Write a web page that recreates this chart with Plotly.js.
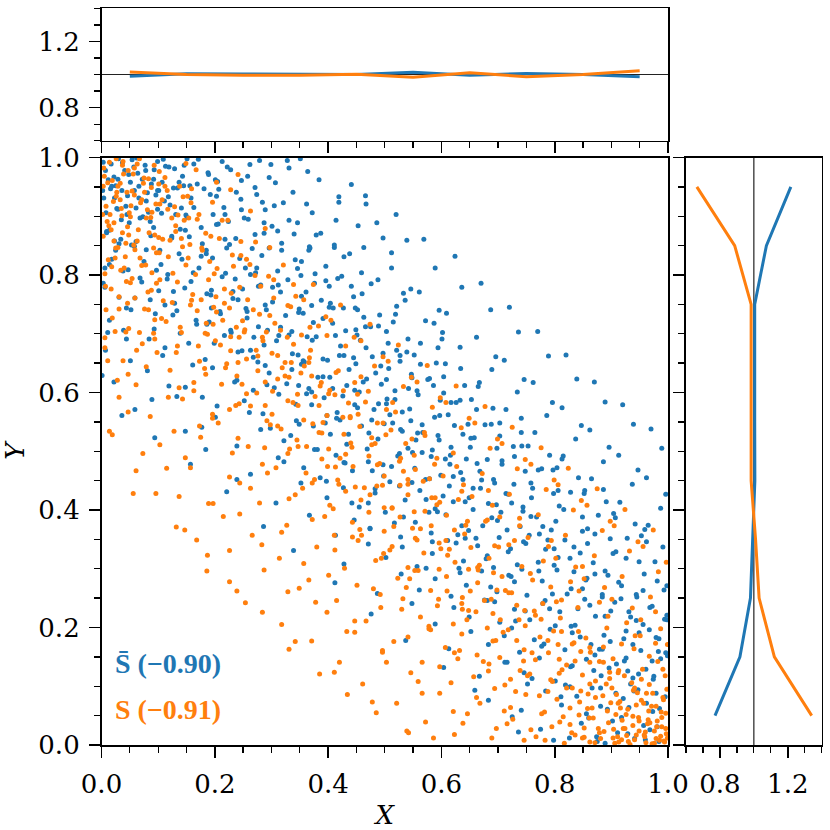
<!DOCTYPE html>
<html>
<head>
<meta charset="utf-8">
<script src="https://cdn.plot.ly/plotly-3.0.1.min.js"></script>
<style>
  html, body { margin: 0; padding: 0; background: #fff; }
  #myDiv { width: 830px; height: 830px; }
</style>
</head>
<body>
<div id="myDiv"></div>
<script>
/* jshint esversion: 6 */
/* global Plotly */

// Scatter samples, as [x, y] in thousandths
const blueDots = [
    [3,992],[18,951],[41,978],[27,913],[9,874],[46,935],[34,861],[14,818],[22,967],[49,889],[6,779],[38,807],[30,998],[11,702],[44,744],[25,842],[1,629],[36,561],
    [57,984],[92,963],[68,897],[81,940],[53,851],[99,912],[75,823],[62,999],[87,867],[71,788],[95,734],[59,761],[84,691],[66,931],[78,978],[51,654],[97,808],[89,588],
    [109,997],[137,958],[121,919],[148,876],[103,842],[129,981],[116,793],[142,827],[133,739],[106,905],[124,863],[145,952],[112,676],[139,701],[119,611],[127,772],[101,944],[148,534],
    [163,989],[181,947],[197,903],[155,865],[172,812],[188,974],[158,931],[193,766],[167,723],[176,881],[185,836],[151,998],[199,684],[161,647],[178,592],[190,720],[169,955],[184,503],
    [213,993],[238,941],[206,887],[226,852],[247,911],[219,803],[232,760],[201,962],[244,828],[228,706],[210,734],[241,669],[216,915],[235,618],[249,776],[204,577],[222,984],[239,452],
    [258,968],[284,924],[271,869],[296,846],[263,801],[289,749],[252,897],[277,712],[299,988],[268,660],[281,783],[255,743],[292,613],[274,937],[261,566],[287,681],[298,539],[266,845],
    [307,957],[331,893],[318,842],[346,811],[302,779],[325,731],[340,870],[313,697],[349,742],[336,639],[321,923],[305,608],[343,580],[328,995],[316,771],[334,527],[311,875],[347,664],[322,482],
    [362,921],[387,871],[353,823],[396,790],[371,748],[379,695],[358,652],[391,726],[366,607],[384,962],[399,655],[374,543],[356,735],[393,591],[368,846],[381,503],[351,998],[376,786],[397,449],
    [414,893],[438,836],[402,781],[427,744],[449,707],[420,663],[433,612],[408,718],[445,659],[416,566],[441,954],[424,798],[403,626],[436,529],[411,847],[447,579],[430,480],[419,924],[442,412],
    [463,847],[488,792],[452,741],[475,712],[497,667],[468,623],[481,571],[457,689],[494,614],[472,531],[486,889],[460,768],[499,547],[478,467],[455,601],[491,732],[466,935],[483,436],[474,369],
    [512,812],[536,757],[503,704],[527,663],[548,625],[518,588],[531,534],[507,641],[544,572],[523,492],[539,859],[515,720],[549,498],[526,441],[509,562],[541,691],[520,903],[533,388],[546,776],
    [561,771],[587,718],[552,664],[576,622],[598,587],[566,545],[582,491],[557,603],[594,527],[572,452],[589,812],[563,684],[599,459],[578,396],[555,519],[591,650],[569,861],[584,346],[596,740],
    [609,735],[633,677],[604,627],[626,583],[647,546],[617,507],[638,452],[612,562],[644,487],[621,414],[636,779],[607,649],[649,421],[629,358],[615,478],[641,612],[624,832],[631,301],[602,702],
    [662,694],[689,639],[653,588],[677,545],[698,505],[668,466],[683,411],[658,523],[694,446],[673,373],[687,741],[665,610],[699,382],[679,317],[656,437],[691,573],[670,786],[681,246],[696,661],[659,93],
    [711,655],[734,601],[703,548],[727,508],[748,466],[718,427],[739,372],[707,484],[744,405],[722,334],[736,703],[714,571],[749,343],[729,278],[705,396],[741,532],[720,745],[731,211],[746,622],[716,141],[725,48],
    [762,617],[786,561],[753,509],[777,470],[798,428],[768,388],[784,333],[758,446],[794,366],[772,296],[789,662],[765,532],[799,306],[779,241],[755,357],[791,493],[770,704],[781,172],[796,583],[760,113],[775,27],
    [813,574],[837,521],[804,472],[828,430],[849,388],[818,349],[834,295],[808,407],[845,327],[822,257],[839,623],[815,492],[849,266],[829,202],[806,319],[842,455],[820,664],[831,135],[847,544],[811,82],[826,12],[841,232],
    [862,536],[886,482],[853,433],[877,391],[898,351],[868,310],[884,256],[858,368],[894,289],[872,219],[889,584],[865,453],[899,228],[879,163],[855,281],[891,414],[870,618],[881,97],[896,507],[860,46],[875,6],[887,187],
    [913,493],[937,444],[904,394],[928,352],[949,312],[918,271],[934,218],[908,329],[945,252],[922,181],[939,546],[915,413],[949,191],[929,126],[906,243],[942,376],[920,579],[931,64],[947,468],[911,21],[926,148],[940,92],
    [962,455],[987,403],[953,356],[977,312],[998,271],[968,234],[984,181],[958,291],[994,214],[972,143],[989,505],[965,374],[999,152],[979,88],[956,205],[991,337],[970,538],[981,31],[996,427],[960,9],[975,117],[985,62],[993,264],
    // second pass, read row by row from the top
    [12,962],[37,991],[64,973],[88,955],[119,984],[143,968],[171,997],[205,959],[228,979],[262,988],[296,966],[331,982],[7,978],[51,958],[99,993],[156,952],[189,971],[247,961],[279,995],[364,976],[25,952],[77,987],
    [4,931],[29,912],[58,944],[83,907],[111,926],[134,948],[163,915],[192,937],[218,903],[246,929],[271,949],[305,918],[338,941],[372,906],[419,933],[467,921],[16,947],[45,903],[96,936],[149,902],[207,946],[289,911],
    [9,872],[35,894],[61,857],[92,881],[124,866],[151,898],[178,853],[203,886],[237,862],[259,895],[287,871],[318,854],[346,889],[379,868],[411,851],[453,884],[497,863],[23,858],[73,899],[139,878],[224,891],[301,883],
    [18,827],[47,809],[79,843],[105,818],[137,836],[162,804],[196,829],[221,846],[254,812],[283,833],[311,807],[342,826],[367,848],[396,815],[428,831],[459,804],[512,838],[6,812],[58,849],[117,801],[185,842],[272,804],[377,802],
    [3,786],[31,762],[68,795],[101,773],[129,752],[158,789],[186,768],[213,797],[241,758],[277,781],[302,754],[329,792],[361,771],[388,757],[417,794],[445,763],[476,785],[533,769],[86,758],[147,778],[232,772],[352,799],[404,752],
    [14,723],[52,741],[93,708],[126,732],[168,716],[194,744],[229,702],[257,727],[291,741],[316,711],[348,736],[374,719],[402,745],[431,705],[463,728],[489,713],[521,747],[572,722],[39,706],[112,749],[209,738],[336,704],[448,744],
    [7,672],[44,691],[108,663],[154,684],[183,656],[217,697],[248,671],[276,652],[309,688],[337,666],[363,695],[391,657],[422,679],[451,698],[478,661],[506,684],[539,669],[601,691],[269,694],[356,654],[413,697],[467,676],[527,653],
    [22,618],[81,637],[148,609],[196,642],[239,621],[268,604],[296,633],[327,615],[353,648],[382,626],[408,607],[437,639],[462,618],[493,645],[518,603],[547,631],[586,612],[634,641],[289,646],[371,601],[449,649],[503,622],[563,648],
    [59,571],[133,593],[201,558],[252,586],[285,564],[313,597],[344,552],[371,579],[398,561],[426,594],[452,574],[477,553],[504,589],[531,567],[559,596],[588,558],[617,583],[662,571],[362,598],[415,556],[489,581],[546,552],[604,599],
    [94,523],[177,541],[239,509],[281,537],[322,518],[349,546],[376,503],[404,529],[433,512],[459,543],[488,521],[514,548],[541,505],[567,532],[596,519],[623,544],[651,507],[703,526],[395,548],[469,504],[528,537],[584,502],[638,529],
    [157,478],[263,461],[312,489],[357,472],[386,455],[414,493],[443,467],[471,482],[498,458],[526,496],[553,471],[579,453],[607,487],[634,464],[663,479],[692,452],[729,491],[771,468],[428,481],[512,474],[566,498],[621,457],[681,486],
    [221,431],[308,412],[352,446],[398,421],[427,438],[455,405],[483,429],[509,448],[536,417],[562,433],[589,402],[614,441],[642,414],[669,437],[697,409],[728,444],[759,421],[806,433],[471,412],[548,447],[603,424],[656,401],[714,428],
    [286,372],[367,391],[413,357],[446,383],[474,368],[501,396],[528,354],[554,379],[582,361],[608,392],[636,373],[661,352],[689,387],[716,366],[744,398],[773,359],[802,381],[849,364],[517,378],[593,397],[648,365],[702,353],[758,389],
    [339,331],[428,308],[471,342],[502,319],[531,337],[557,304],[584,326],[611,348],[639,313],[664,339],[692,302],[718,329],[745,346],[771,311],[799,334],[827,318],[858,343],[903,326],[573,301],[626,344],[681,322],[734,307],[788,349],
    [412,276],[487,258],[529,291],[561,264],[589,283],[617,253],[644,272],[671,296],[698,261],[723,287],[751,255],[778,279],[804,298],[829,266],[857,284],[884,252],[913,277],[956,263],[633,293],[687,269],[742,299],[796,257],[871,291],
    [476,223],[548,241],[589,206],[622,234],[649,218],[676,247],[703,209],[729,231],[756,213],[783,246],[809,227],[836,204],[862,238],[889,219],[917,249],[944,212],[972,236],[998,221],[694,244],[748,228],[801,203],[853,248],[931,227],
    [537,178],[613,164],[652,193],[683,171],[711,186],[738,158],[764,179],[792,197],[818,162],[845,184],[871,153],[898,176],[926,194],[952,161],[979,183],[996,157],[724,199],[777,168],[831,191],[884,163],[938,171],[967,196],
    [604,132],[667,117],[712,141],[746,123],[773,148],[801,109],[828,133],[856,146],[882,118],[909,138],[934,104],[961,129],[987,147],[819,102],[869,127],[923,143],[974,112],[752,104],[896,131],[948,121],
    [683,76],[741,59],[784,92],[812,68],[839,83],[866,97],[893,61],[921,79],[947,94],[973,57],[995,82],[856,53],[908,88],[962,71],[827,99],[881,66],
    [736,22],[798,8],[847,37],[874,14],[902,41],[929,19],[957,33],[984,6],[918,47],[968,26],[889,3],[941,11],
    // third pass: top-left corner and band core
    [2,944],[17,989],[29,963],[43,917],[54,996],[66,951],[79,926],[93,979],[107,958],[118,933],[131,903],[146,987],[8,906],[23,931],[36,944],[48,971],[61,914],[72,963],[86,891],[99,944],[113,985],[127,948],[141,914],[14,876],[31,853],
    [176,832],[194,774],[218,861],[236,793],[257,738],[274,812],[293,706],[312,783],[331,698],[353,764],[372,689],[391,627],[409,744],[428,663],[447,604],[466,712],[484,633],[503,581],[521,672],[542,607],[558,531],[579,624],[597,561],[616,493],[633,587],[652,522],[671,451],[688,546],[707,478],[724,412],[742,509],[761,437],[779,372],[797,468],[816,401],[834,337],[852,428],[871,359],[889,296],[907,387],[926,318],[944,256],[962,346],[981,279],[998,213],
    [186,716],[263,672],[348,612],[421,553],[497,477],[573,418],[642,352],[719,289],[791,232],[864,171],[938,114],[983,159],[203,934],[287,889],[366,842],[441,781],[519,733],[594,676],[667,617],[741,556],[813,487],[886,435],[959,367]
];

const orangeDots = [
    [5,968],[21,925],[37,987],[13,884],[45,941],[29,847],[2,903],[40,812],[17,776],[33,956],[48,868],[8,741],[26,998],[43,703],[11,654],[31,592],[19,528],[47,631],[24,829],[36,901],
    [54,943],[79,897],[63,858],[96,921],[71,816],[88,774],[58,982],[83,741],[67,702],[92,846],[75,965],[51,787],[98,668],[61,613],[86,559],[73,496],[94,724],[56,428],
    [107,928],[131,874],[118,831],[146,893],[103,792],[125,753],[139,711],[112,951],[134,679],[149,817],[121,638],[106,726],[143,589],[128,534],[115,471],[137,423],[101,864],[147,366],
    [154,897],[178,842],[166,801],[193,866],[159,757],[185,718],[171,679],[199,802],[152,934],[182,641],[163,603],[196,563],[175,524],[157,472],[189,411],[168,349],[186,296],[198,745],
    [208,862],[233,815],[217,776],[246,833],[203,737],[228,695],[241,651],[212,614],[237,578],[223,893],[249,722],[206,548],[231,497],[244,446],[215,389],[226,331],[239,262],[210,681],
    [256,827],[281,781],[268,741],[295,798],[252,703],[276,662],[289,618],[263,577],[298,545],[272,856],[285,688],[259,508],[293,463],[279,412],[266,357],[287,298],[254,242],[297,731],
    [304,792],[329,748],[316,706],[343,764],[301,667],[324,628],[338,583],[311,543],[347,508],[321,817],[335,651],[308,472],[342,426],[327,374],[314,318],[349,267],[318,205],[331,163],
    [357,758],[383,713],[369,672],[396,729],[352,633],[377,593],[391,549],[362,508],[399,474],[374,784],[388,617],[355,437],[394,389],[380,337],[366,281],[398,226],[371,177],[385,121],
    [405,723],[431,679],[418,637],[446,694],[401,598],[426,558],[440,514],[413,473],[448,439],[422,749],[436,582],[409,402],[443,354],[429,301],[415,246],[447,192],[420,141],[434,86],
    [458,688],[482,645],[471,602],[497,661],[453,563],[477,523],[491,479],[464,438],[499,404],[474,716],[487,548],[456,367],[494,318],[480,266],[467,211],[496,158],[461,104],[485,55],
    [506,653],[533,610],[519,567],[547,626],[502,528],[528,488],[541,444],[513,403],[549,369],[524,681],[537,513],[509,332],[544,283],[530,231],[516,176],[546,123],[521,71],[539,24],
    [557,618],[584,575],[570,532],[598,591],[552,493],[579,453],[592,409],[563,368],[599,334],[575,646],[588,478],[559,297],[595,248],[581,196],[566,141],[597,88],[572,39],[586,12],
    [608,583],[635,540],[621,497],[649,556],[603,458],[630,418],[643,374],[614,333],[648,299],[626,611],[639,443],[610,262],[645,213],[632,161],[617,106],[646,53],[623,18],[637,231],
    [659,548],[686,505],[672,462],[699,521],[654,423],[681,383],[694,339],[665,298],[698,264],[677,576],[690,408],[661,227],[696,178],[683,126],[668,71],[697,28],[674,142],[688,248],
    [707,513],[734,470],[720,427],[748,486],[703,388],[729,348],[742,304],[713,263],[747,229],[725,541],[738,373],[709,192],[745,143],[731,91],[716,36],[746,8],[722,112],[737,213],[711,58],
    [758,478],[785,435],[771,392],[799,451],[753,353],[780,313],[793,269],[764,228],[798,194],[776,506],[789,338],[760,157],[796,108],[782,56],[767,14],[795,31],[773,84],[788,178],[756,121],[779,241],
    [806,443],[833,400],[819,357],[847,416],[802,318],[828,278],[841,234],[812,193],[846,159],[824,471],[837,303],[808,122],[844,73],[830,21],[815,48],[849,12],[821,97],[836,143],[810,216],[843,262],[827,35],
    [857,408],[884,365],[870,322],[898,381],[852,283],[879,243],[892,199],[863,158],[897,124],[875,436],[888,268],[859,87],[895,38],[881,11],[866,63],[899,72],[872,109],[886,141],[855,182],[894,219],[877,28],[862,5],
    [905,373],[932,330],[919,287],[947,346],[901,248],[927,208],[940,164],[912,123],[946,89],[924,401],[937,233],[908,52],[944,17],[930,6],[915,74],[949,41],[921,28],[936,106],[903,147],[942,186],[918,9],[929,61],[911,14],
    [956,338],[983,295],[969,252],[997,311],[952,213],[978,173],[991,129],[962,88],[996,54],[974,366],[987,198],[958,17],[994,5],[980,31],[965,43],[999,12],[971,66],[985,8],[953,112],[992,77],[976,3],[960,22],[989,47],[998,95],[967,151],
    // second pass, read row by row from the top
    [4,982],[19,961],[38,993],[56,972],[74,956],[93,987],[112,966],[138,951],[167,979],[203,958],[241,971],[29,951],[67,998],[101,955],[149,990],[11,957],[47,978],[83,964],
    [8,917],[27,941],[49,906],[71,928],[88,949],[117,912],[144,933],[172,903],[196,924],[228,945],[263,909],[15,903],[58,936],[103,921],[135,902],[33,928],[81,911],[159,947],
    [3,866],[22,889],[43,854],[65,877],[87,898],[108,861],[131,884],[156,852],[184,871],[213,893],[246,857],[289,879],[51,899],[94,868],[17,877],[121,859],[169,895],[37,872],
    [12,826],[34,808],[59,843],[78,817],[102,838],[126,803],[153,829],[177,846],[204,811],[231,834],[262,818],[297,847],[42,831],[89,804],[143,848],[191,823],[25,846],[6,802],[68,829],
    [7,781],[31,763],[54,794],[82,771],[109,756],[134,788],[161,767],[189,792],[217,752],[244,779],[271,799],[304,761],[339,784],[46,752],[97,786],[176,758],[229,769],[258,758],
    [19,727],[48,709],[76,742],[114,721],[141,702],[169,739],[197,716],[226,744],[253,707],[279,733],[306,718],[334,746],[368,711],[92,701],[157,749],[214,723],[291,703],[24,704],
    [6,676],[38,654],[94,691],[132,668],[173,653],[201,688],[228,671],[256,657],[284,694],[311,663],[339,682],[367,659],[398,697],[62,672],[187,699],[243,694],[324,651],[353,698],
    [28,621],[79,644],[137,608],[184,631],[221,649],[248,614],[276,637],[302,602],[331,626],[358,645],[386,611],[414,634],[447,617],[163,617],[239,628],[319,642],[371,628],[427,603],
    [47,567],[118,592],[196,556],[243,581],[274,599],[301,563],[329,586],[357,553],[384,578],[412,596],[439,559],[466,584],[503,571],[289,578],[346,597],[398,561],[452,597],[226,571],
    [14,534],[103,511],[173,543],[241,522],[288,506],[317,538],[345,519],[373,547],[401,504],[428,529],[456,542],[483,513],[511,536],[548,521],[332,504],[389,531],[442,507],[497,548],
    [61,467],[148,489],[226,456],[284,478],[329,496],[361,463],[389,487],[417,451],[444,474],[472,492],[499,458],[526,483],[554,469],[592,488],[376,452],[431,495],[487,477],[541,452],
    [96,428],[197,411],[263,437],[331,419],[372,446],[403,408],[431,432],[458,417],[486,441],[513,404],[541,426],[568,449],[597,413],[636,432],[419,444],[474,426],[527,442],[583,421],
    [132,371],[244,393],[318,362],[372,384],[411,357],[443,379],[472,396],[499,364],[527,388],[554,352],[582,373],[609,391],[641,359],[678,381],[459,357],[516,372],[571,398],[623,366],
    [187,323],[283,341],[357,309],[412,332],[453,348],[484,314],[513,338],[541,302],[569,327],[596,344],[624,311],[652,336],[684,318],[719,341],[498,326],[557,349],[611,323],[667,306],
    [226,278],[329,261],[401,289],[451,272],[492,256],[523,284],[553,297],[581,263],[609,287],[637,251],[664,276],[692,293],[724,259],[761,281],[538,268],[596,299],[651,262],[707,287],
    [284,226],[378,243],[447,211],[493,234],[532,249],[563,218],[593,237],[621,206],[648,229],[676,246],[704,213],[733,238],[766,221],[803,244],[578,202],[636,241],[691,224],[748,203],
    [342,176],[433,193],[496,161],[541,184],[578,198],[607,166],[636,189],[663,153],[691,177],[718,196],[746,162],[774,184],[806,171],[842,193],[623,157],[681,199],[733,178],[789,157],[862,166],
    [411,124],[503,141],[559,108],[597,133],[629,147],[657,116],[684,138],[712,102],[739,127],[766,145],[793,111],[821,136],[849,119],[879,142],[913,127],[703,149],[752,118],[808,146],[862,104],[897,113],
    [478,73],[566,88],[621,57],[662,81],[694,96],[722,64],[749,86],[777,53],[804,78],[831,97],[858,62],[885,84],[912,71],[939,93],[966,58],[991,81],[788,91],[843,51],[901,97],[953,76],[979,66],[926,52],
    [542,21],[638,37],[689,12],[726,44],[758,26],[783,8],[809,39],[836,17],[861,46],[887,23],[913,5],[938,33],[959,14],[981,41],[997,19],[924,28],[871,4],[948,47],[972,2],[989,31],[852,29],[903,12],[964,36],[817,3],[993,7],[976,24],[941,9],
    // third pass: both corners and band core
    [3,951],[14,992],[26,934],[39,972],[52,918],[63,989],[76,941],[89,907],[102,976],[116,944],[129,916],[10,891],[22,858],[35,913],[46,882],[57,851],[69,923],[84,872],[97,838],[124,897],[141,862],[158,923],[18,814],[44,789],[31,742],[6,693],[59,761],[72,683],
    [852,13],[868,46],[879,21],[893,58],[904,27],[916,63],[927,16],[938,49],[949,24],[957,71],[968,38],[979,11],[988,56],[996,28],[872,81],[891,104],[909,86],[923,118],[941,97],[955,129],[967,103],[982,142],[995,118],[846,92],[827,63],[813,128],[834,174],[862,141],[886,167],[918,172],[951,186],[978,227],[999,171],[906,3],[933,1],[961,4],[987,15],[944,68],[973,88],[919,42],
    [183,701],[202,763],[219,642],[238,711],[256,598],[273,672],[292,552],[311,623],[328,694],[347,578],[366,651],[384,532],[403,604],[421,488],[439,557],[458,627],[477,511],[496,442],[514,583],[533,466],[552,397],[571,527],[589,421],[608,348],[627,474],[646,381],[664,302],[683,433],[701,337],[719,259],[738,386],[757,292],[776,214],[794,348],[812,247],[831,172],[849,304]
];

// Marginal ratio curves (top panel: along X, right panel: along Y)
const binCenters = [0.05, 0.15, 0.25, 0.35, 0.45, 0.55, 0.65, 0.75, 0.85, 0.95];
const topBlue   = [0.990, 1.004, 1.003, 1.003, 1.000, 1.013, 0.996, 1.006, 1.000, 0.987];
const topOrange = [1.015, 1.000, 0.995, 0.995, 1.002, 0.983, 1.010, 0.987, 1.000, 1.023];
const rightBlue   = [0.771, 0.918, 0.980, 0.992, 1.006, 1.005, 1.005, 1.005, 1.074, 1.218];
const rightOrange = [1.341, 1.121, 1.031, 1.010, 0.984, 0.984, 0.984, 0.984, 0.887, 0.664];

// Legend labels: name and rank correlation
const seriesNames = ['<b>S\u0304 (\u22120.90)</b>', '<b>S (\u22120.91)</b>'];
const seriesColors = ['#1f77b4', '#ff7f0e'];

function runPlot() {
    'use strict';

    const W = 830;
    const px = v => v / W;

    // Panel edges in pixels
    const mainX = [px(101.5), px(668)];
    const mainY = [px(W - 745), px(W - 157.5)];
    const topY  = [px(W - 140.7), px(W - 8.3)];
    const rightX = [px(686), px(821.7)];

    const tickFont = {family: 'DejaVu Serif', size: 26, color: '#000'};

    function axis(extra) {
        return Object.assign({
            showline: true, linecolor: '#000', linewidth: 1.6, mirror: true,
            ticks: 'outside', ticklen: 11, tickwidth: 1.6, tickcolor: '#000',
            showgrid: false, zeroline: false, tickfont: tickFont,
            tickformat: '.1f', ticklabelstandoff: 4
        }, extra);
    }

    const minorFine = {ticks: 'outside', ticklen: 6, tickwidth: 1.3, tickcolor: '#000', dtick: 0.05, showgrid: false};
    const minorRatio = {ticks: 'outside', ticklen: 6, tickwidth: 1.3, tickcolor: '#000', dtick: 0.1, showgrid: false};

    const dotSize = 5;

    const scatterBlue = {
        x: blueDots.map(d => d[0] / 1000),
        y: blueDots.map(d => d[1] / 1000),
        type: 'scatter', mode: 'markers', xaxis: 'x', yaxis: 'y',
        marker: {color: seriesColors[0], size: dotSize},
        hoverinfo: 'skip'
    };
    const scatterOrange = {
        x: orangeDots.map(d => d[0] / 1000),
        y: orangeDots.map(d => d[1] / 1000),
        type: 'scatter', mode: 'markers', xaxis: 'x', yaxis: 'y',
        marker: {color: seriesColors[1], size: dotSize},
        hoverinfo: 'skip'
    };

    const lineStyle = c => ({color: c, width: 3});

    const topTraces = [
        {x: binCenters, y: topBlue, xaxis: 'x2', yaxis: 'y2', type: 'scatter', mode: 'lines', line: lineStyle(seriesColors[0])},
        {x: binCenters, y: topOrange, xaxis: 'x2', yaxis: 'y2', type: 'scatter', mode: 'lines', line: lineStyle(seriesColors[1])}
    ];
    const rightTraces = [
        {x: rightBlue, y: binCenters, xaxis: 'x3', yaxis: 'y3', type: 'scatter', mode: 'lines', line: lineStyle(seriesColors[0])},
        {x: rightOrange, y: binCenters, xaxis: 'x3', yaxis: 'y3', type: 'scatter', mode: 'lines', line: lineStyle(seriesColors[1])}
    ];

    const layout = {
        width: 830,
        height: 830,
        margin: {l: 0, r: 0, t: 0, b: 0},
        paper_bgcolor: '#fff',
        plot_bgcolor: '#fff',
        showlegend: false,

        xaxis: axis({
            domain: mainX, anchor: 'y', range: [0, 1], tick0: 0, dtick: 0.2, minor: minorFine,
            title: {text: '<i>X</i>', font: {family: 'DejaVu Serif', size: 26, color: '#000'}, standoff: 8}
        }),
        yaxis: axis({
            domain: mainY, anchor: 'x', range: [0, 1], tick0: 0, dtick: 0.2, minor: minorFine,
            title: {text: '<i>Y</i>', font: {family: 'DejaVu Serif', size: 26, color: '#000'}, standoff: 10}
        }),

        xaxis2: axis({
            domain: mainX, anchor: 'y2', matches: 'x', range: [0, 1], tick0: 0, dtick: 0.2,
            minor: minorFine, showticklabels: false
        }),
        yaxis2: axis({
            domain: topY, anchor: 'x2', range: [0.6, 1.4], tick0: 0, dtick: 0.4, minor: minorRatio
        }),

        xaxis3: axis({
            domain: rightX, anchor: 'y3', range: [0.6, 1.4], tick0: 0, dtick: 0.4, minor: minorRatio
        }),
        yaxis3: axis({
            domain: mainY, anchor: 'x3', matches: 'y', range: [0, 1], tick0: 0, dtick: 0.2,
            minor: minorFine, showticklabels: false
        }),

        shapes: [
            {type: 'line', xref: 'x2 domain', yref: 'y2', x0: 0, x1: 1, y0: 1, y1: 1,
                line: {color: '#222', width: 1.2}, layer: 'below'},
            {type: 'line', xref: 'x3', yref: 'y3 domain', x0: 1, x1: 1, y0: 0, y1: 1,
                line: {color: '#222', width: 1.2}, layer: 'below'}
        ],

        annotations: [
            {xref: 'x', yref: 'y', x: 0.02, y: 0.138, text: seriesNames[0], showarrow: false,
                xanchor: 'left', yanchor: 'middle',
                font: {family: 'Liberation Serif', size: 28, color: seriesColors[0]}},
            {xref: 'x', yref: 'y', x: 0.02, y: 0.06, text: seriesNames[1], showarrow: false,
                xanchor: 'left', yanchor: 'middle',
                font: {family: 'Liberation Serif', size: 28, color: seriesColors[1]}}
        ]
    };

    Plotly.newPlot('myDiv', [scatterBlue, scatterOrange].concat(topTraces, rightTraces), layout,
        {displayModeBar: false, staticPlot: true});
}

runPlot();
</script>
</body>
</html>
